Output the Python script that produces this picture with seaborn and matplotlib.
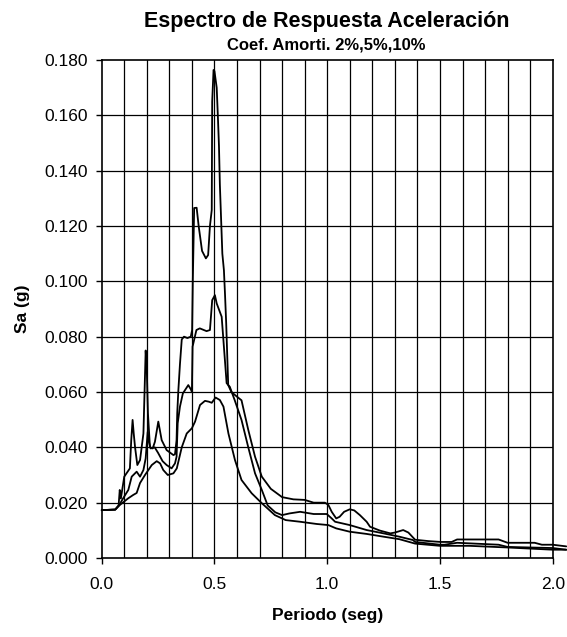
import numpy as np
import pandas as pd
import matplotlib
matplotlib.use("Agg")
import matplotlib.pyplot as plt
import seaborn as sns

# damping 2%
t_2 = [0.00, 0.06, 0.075, 0.080, 0.085, 0.100, 0.125, 0.131, 0.137, 0.142,
       0.148, 0.158, 0.170, 0.185, 0.190, 0.195, 0.200, 0.205, 0.214, 0.226,
       0.236, 0.251, 0.266, 0.288, 0.318, 0.325, 0.332, 0.335, 0.340, 0.347,
       0.355, 0.365, 0.380, 0.395, 0.401, 0.404, 0.410, 0.421, 0.430, 0.445,
       0.462, 0.472, 0.480, 0.488, 0.490, 0.496, 0.500, 0.510, 0.515, 0.520,
       0.524, 0.535, 0.542, 0.547, 0.552, 0.561, 0.575, 0.600, 0.620, 0.650,
       0.680, 0.710, 0.750, 0.800, 0.850, 0.900, 0.940, 0.990, 1.005, 1.020,
       1.040, 1.055, 1.075, 1.100, 1.120, 1.145, 1.175, 1.190, 1.234, 1.280,
       1.300, 1.337, 1.360, 1.390, 1.450, 1.504, 1.552, 1.576, 1.760, 1.800,
       1.920, 1.952, 2.000, 2.060]
sa_2 = [0.0173, 0.0175, 0.0190, 0.0246, 0.0215, 0.0294, 0.0324, 0.0426, 0.0499, 0.0450,
        0.0400, 0.0336, 0.0354, 0.0450, 0.0600, 0.0750, 0.0680, 0.0524, 0.0400, 0.0396,
        0.0420, 0.0493, 0.0426, 0.0390, 0.0372, 0.0375, 0.0426, 0.0524, 0.0607, 0.0700,
        0.0790, 0.0800, 0.0795, 0.0800, 0.0824, 0.1000, 0.1265, 0.1266, 0.1200, 0.1110,
        0.1083, 0.1095, 0.1200, 0.1258, 0.1650, 0.1764, 0.1760, 0.1700, 0.1600, 0.1490,
        0.1350, 0.1100, 0.1040, 0.0950, 0.0850, 0.0625, 0.0600, 0.0583, 0.0570, 0.0463,
        0.0366, 0.0294, 0.0250, 0.0220, 0.0212, 0.0210, 0.0200, 0.0200, 0.0192, 0.0167,
        0.0143, 0.0149, 0.0167, 0.0176, 0.0172, 0.0155, 0.0131, 0.0113, 0.0099, 0.0089,
        0.0092, 0.0101, 0.0092, 0.0066, 0.0061, 0.0058, 0.0058, 0.0067, 0.0067, 0.0055,
        0.0055, 0.0048, 0.0048, 0.0042]

# damping 5%
t_5 = [0.00, 0.06, 0.078, 0.096, 0.118, 0.133, 0.155, 0.170, 0.185, 0.195,
       0.204, 0.209, 0.217, 0.235, 0.250, 0.270, 0.288, 0.310, 0.325, 0.332,
       0.337, 0.347, 0.360, 0.384, 0.395, 0.400, 0.403, 0.420, 0.435, 0.465,
       0.480, 0.490, 0.502, 0.510, 0.532, 0.554, 0.568, 0.590, 0.620, 0.650,
       0.680, 0.710, 0.736, 0.770, 0.800, 0.832, 0.880, 0.940, 0.998, 1.020,
       1.035, 1.100, 1.175, 1.250, 1.320, 1.380, 1.390, 1.500, 1.520, 1.576,
       1.760, 1.800, 2.000, 2.060]
sa_5 = [0.0173, 0.0175, 0.0192, 0.0217, 0.0246, 0.0294, 0.0312, 0.0294, 0.0318, 0.0360,
        0.0456, 0.0420, 0.0396, 0.0400, 0.0380, 0.0350, 0.0336, 0.0324, 0.0342, 0.0366,
        0.0487, 0.0547, 0.0595, 0.0625, 0.0610, 0.0600, 0.0764, 0.0824, 0.0830, 0.0820,
        0.0824, 0.0932, 0.0950, 0.0920, 0.0872, 0.0632, 0.0619, 0.0570, 0.0499, 0.0400,
        0.0306, 0.0246, 0.0190, 0.0165, 0.0155, 0.0161, 0.0167, 0.0159, 0.0159, 0.0143,
        0.0131, 0.0119, 0.0101, 0.0089, 0.0077, 0.0065, 0.0058, 0.0048, 0.0048, 0.0055,
        0.0048, 0.0040, 0.0036, 0.0030]

# damping 10%
t_10 = [0.00, 0.06, 0.081, 0.118, 0.140, 0.155, 0.170, 0.192, 0.222, 0.244,
        0.259, 0.273, 0.293, 0.318, 0.333, 0.355, 0.377, 0.400, 0.414, 0.436,
        0.458, 0.475, 0.488, 0.505, 0.524, 0.540, 0.562, 0.591, 0.620, 0.665,
        0.710, 0.768, 0.816, 0.880, 0.953, 1.005, 1.040, 1.100, 1.175, 1.250,
        1.320, 1.390, 1.500, 1.630, 1.800, 2.000, 2.060]
sa_10 = [0.0173, 0.0175, 0.0192, 0.0216, 0.0228, 0.0235, 0.0271, 0.0300, 0.0336, 0.0350,
         0.0342, 0.0318, 0.0300, 0.0306, 0.0324, 0.0400, 0.0450, 0.0469, 0.0493, 0.0553,
         0.0568, 0.0565, 0.0561, 0.0580, 0.0571, 0.0547, 0.0450, 0.0354, 0.0282, 0.0234,
         0.0198, 0.0155, 0.0137, 0.0131, 0.0123, 0.0119, 0.0107, 0.0095, 0.0087, 0.0077,
         0.0068, 0.0052, 0.0044, 0.0044, 0.0038, 0.0030, 0.0030]

x_ticks = [0.0, 0.5, 1.0, 1.5, 2.0]
y_ticks = [0.00, 0.02, 0.04, 0.06, 0.08, 0.10, 0.12, 0.14, 0.16, 0.18]

sns.set_style("white")
plt.rcParams['font.family'] = ['Liberation Sans', 'DejaVu Sans']
plt.rcParams['text.color'] = 'black'
plt.rcParams['axes.labelcolor'] = 'black'
plt.rcParams['xtick.color'] = 'black'
plt.rcParams['ytick.color'] = 'black'

fig = plt.figure(figsize=(5.67, 6.37), dpi=100)
ax = fig.add_axes([101.7 / 567, 1 - 558 / 637, 451 / 567, 498 / 637])

for t, sa in [(t_2, sa_2), (t_5, sa_5), (t_10, sa_10)]:
    df = pd.DataFrame({'Periodo': t, 'Sa': sa})
    sns.lineplot(data=df, x='Periodo', y='Sa', ax=ax, color='black',
                 linewidth=1.3, estimator=None, clip_on=False, zorder=3)

ax.set_xlim(0, 2.0)
ax.set_ylim(0, 0.18)

# grid every 0.1 s and 0.02 g
for gx in np.arange(0.1, 2.0, 0.1):
    ax.axvline(gx, color='black', linewidth=0.9, zorder=1)
for gy in y_ticks[1:-1]:
    ax.axhline(gy, color='black', linewidth=0.9, zorder=1)

ax.set_xticks(x_ticks)
ax.set_xticklabels([f"{v:.1f}" for v in x_ticks])
ax.set_yticks(y_ticks)
ax.set_yticklabels([f"{v:.3f}" for v in y_ticks])
ax.tick_params(axis='both', direction='out', length=4, width=1, color='black',
               labelsize=12.5, bottom=True, left=True)
ax.tick_params(axis='x', pad=10)
ax.tick_params(axis='y', pad=6)

for s in ax.spines.values():
    s.set_color('black')
    s.set_linewidth(1.2)

ax.set_xlabel('Periodo (seg)', fontsize=12.5, fontweight='bold', labelpad=11)
ax.set_ylabel('Sa (g)', fontsize=12.5, fontweight='bold', labelpad=10)

fig.text(327 / 567, 1 - 21 / 637, 'Espectro de Respuesta Aceleración',
         ha='center', va='center', fontsize=15.5, fontweight='bold')
fig.text(326 / 567, 1 - 45 / 637, 'Coef. Amorti. 2%,5%,10%',
         ha='center', va='center', fontsize=12, fontweight='bold')

fig.savefig('out.png', dpi=100)
